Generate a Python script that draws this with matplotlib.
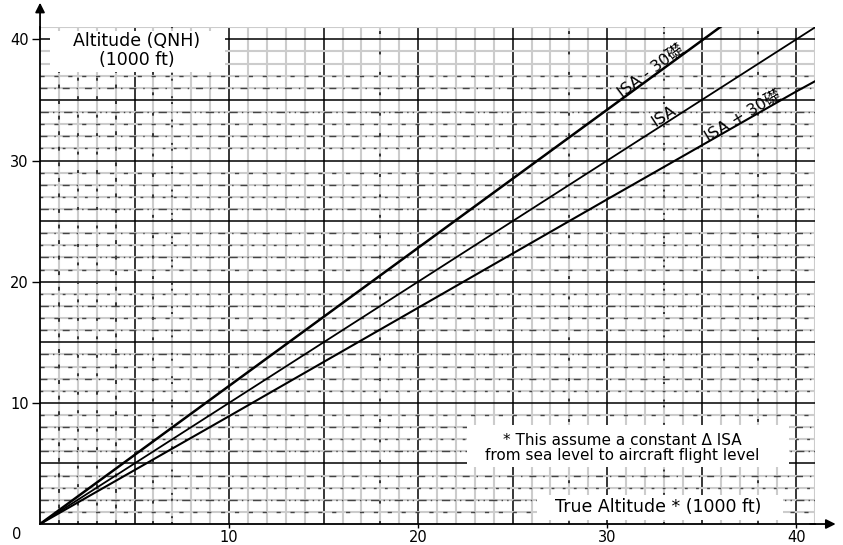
import matplotlib
matplotlib.use("Agg")
import matplotlib.pyplot as plt
from matplotlib.patches import Rectangle

# ---- data ----
true_alt = [0, 10, 20, 30, 40, 41]
qnh_isa_m30 = [0, 11.4, 22.8, 34.2, 45.6, 46.7]
qnh_isa = [0, 10, 20, 30, 40, 41]
qnh_isa_p30 = [0, 8.9, 17.85, 26.8, 35.7, 36.55]
series_labels = ["ISA - 30礎", "ISA", "ISA + 30礎"]
label_pos = [(32.3, 37.4), (33.0, 33.7), (37.2, 33.7)]
xticks = [10, 20, 30, 40]
yticks = [10, 20, 30, 40]

plt.rcParams['font.family'] = ['DejaVu Sans', 'Noto Sans CJK SC']

fig = plt.figure(figsize=(8.43, 5.45), dpi=100)
ax = fig.add_axes([0.0475, 0.0385, 0.9195, 0.9115])
ax.set_xlim(0, 41)
ax.set_ylim(0, 41)

# ---- grid ----
vdark = {1: (0, (2, 6)), 2: (0, (1.5, 8)), 3: (0, (1.5, 8)), 4: (0, (2, 6)),
         6: (0, (1.5, 9)), 7: (0, (1, 2, 1, 8)), 18: (0, (1.5, 9)),
         28: (0, (1.5, 9)), 33: (0, (1, 2, 1, 8)), 38: (0, (1.5, 9))}
hpat = [(0, (5, 5, 1, 5)), (0, (3, 7)), (0, (6, 3, 1, 3, 1, 3)), (0, (2, 6))]
for v in range(1, 42):
    if v % 5 == 0 and v <= 40:
        ax.axvline(v, color='black', lw=1.1, zorder=1)
    else:
        ax.axvline(v, color='#cccccc', lw=1.5, zorder=1)
        if v in vdark:
            ax.axvline(v, color='#333333', lw=1.4, ls=vdark[v], zorder=1.2)
for h in range(1, 42):
    if h % 5 == 0 and h <= 40:
        ax.axhline(h, color='black', lw=1.1, zorder=1)
    else:
        ax.axhline(h, color='#cccccc', lw=1.5, zorder=1)
        if h not in (38, 39, 41):
            ax.axhline(h, color='#444444', lw=1.0, ls=hpat[h % 4], zorder=1.2)

# ---- lines ----
ax.plot(true_alt, qnh_isa_m30, color='black', lw=1.8, zorder=3)
ax.plot(true_alt, qnh_isa, color='black', lw=1.3, zorder=3)
ax.plot(true_alt, qnh_isa_p30, color='black', lw=1.5, zorder=3)

for lab, (px, py), rot in zip(series_labels, label_pos, [37, 33, 31]):
    ax.text(px, py, lab, rotation=rot, fontsize=11.5, ha='center', va='center',
            rotation_mode='anchor', zorder=4)

# ---- spines / ticks ----
for s in ('top', 'right'):
    ax.spines[s].set_visible(False)
ax.spines['left'].set_linewidth(1.3)
ax.spines['bottom'].set_linewidth(1.3)
ax.set_xticks(xticks)
ax.set_yticks(yticks)
ax.tick_params(axis='y', length=6, width=1, labelsize=10.5, pad=2)
ax.tick_params(axis='x', length=3, width=1, labelsize=10.5, pad=1)
ax.text(-0.03, -0.022, "0", transform=ax.transAxes, fontsize=10.5,
        ha='center', va='center')

# arrows
ax.annotate('', xy=(0, 1.055), xytext=(0, 0.99), xycoords='axes fraction',
            arrowprops=dict(arrowstyle='-|>', color='black', lw=1.3,
                            mutation_scale=14), annotation_clip=False)
ax.annotate('', xy=(1.03, 0), xytext=(0.99, 0), xycoords='axes fraction',
            arrowprops=dict(arrowstyle='-|>', color='black', lw=1.3,
                            mutation_scale=14), annotation_clip=False)

# ---- text boxes ----
ax.add_patch(Rectangle((0.55, 37.3), 9.25, 3.4, facecolor='white',
                       edgecolor='none', zorder=4.5))
ax.text(5.1, 39.1, "Altitude (QNH)\n(1000 ft)", fontsize=12.5, ha='center',
        va='center', linespacing=1.05, zorder=5)
ax.add_patch(Rectangle((22.6, 4.7), 17.0, 3.5, facecolor='white',
                       edgecolor='none', zorder=4.5))
ax.text(30.8, 6.25, "* This assume a constant \u0394 ISA\nfrom sea level to aircraft flight level",
        fontsize=11, ha='center', va='center', linespacing=1.0, zorder=5)
ax.add_patch(Rectangle((26.3, 0.3), 13.0, 2.1, facecolor='white',
                       edgecolor='none', zorder=4.5))
ax.text(32.7, 1.4, "True Altitude * (1000 ft)", fontsize=12.5, ha='center',
        va='center', zorder=5)

fig.savefig("out.png", dpi=100)
